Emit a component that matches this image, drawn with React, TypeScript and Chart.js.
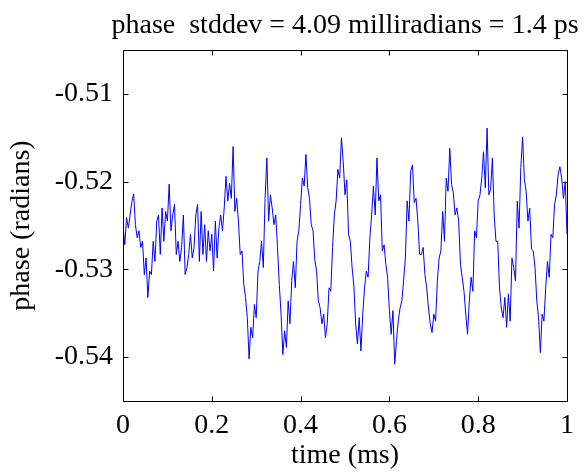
import React, { useEffect, useRef } from "react";
import { Chart, registerables } from "chart.js";

Chart.register(...registerables);

// ---------- data ----------
const titleText = "phase  stddev = 4.09 milliradians = 1.4 ps";
const xAxisLabel = "time (ms)";
const yAxisLabel = "phase (radians)";

const samplePeriodMs = 0.004; // time between samples (ms)

// phase samples (radians), in time order
const phaseSeg1 = [
  -0.5249, -0.5272, -0.5241, -0.5253, -0.5238, -0.5223, -0.5214, -0.5249, -0.5264, -0.5256,
  -0.5275, -0.5268, -0.5306, -0.5287, -0.5332, -0.5302, -0.5306, -0.5268, -0.5291, -0.5245,
  -0.5238, -0.5283, -0.5230, -0.5268, -0.5234, -0.5245, -0.5203, -0.5256, -0.5238, -0.5226,
  -0.5283, -0.5268, -0.5291, -0.5275, -0.5238, -0.5306, -0.5298, -0.5283, -0.5260, -0.5287,
  -0.5275, -0.5238,
];
const phaseSeg2 = [
  -0.5226, -0.5291, -0.5234, -0.5283, -0.5249, -0.5291, -0.5256, -0.5279, -0.5260, -0.5302,
  -0.5245, -0.5287, -0.5253, -0.5238, -0.5256, -0.5230, -0.5194, -0.5222, -0.5202, -0.5219,
  -0.5160, -0.5234, -0.5219, -0.5245, -0.5283, -0.5279, -0.5317, -0.5332, -0.5355, -0.5402,
  -0.5366, -0.5378, -0.5340, -0.5355, -0.5302, -0.5291, -0.5268, -0.5298, -0.5219, -0.5173,
  -0.5245, -0.5215,
];
const phaseSeg3 = [
  -0.5230, -0.5249, -0.5238, -0.5275, -0.5317, -0.5351, -0.5397, -0.5370, -0.5389, -0.5336,
  -0.5362, -0.5313, -0.5291, -0.5321, -0.5268, -0.5256, -0.5226, -0.5196, -0.5205, -0.5169,
  -0.5207, -0.5219, -0.5249, -0.5256, -0.5289, -0.5302, -0.5336, -0.5344, -0.5362, -0.5351,
  -0.5378, -0.5362, -0.5321, -0.5325, -0.5275, -0.5238, -0.5222, -0.5186, -0.5196, -0.5150,
  -0.5177, -0.5215,
];
const phaseSeg4 = [
  -0.5198, -0.5260, -0.5268, -0.5298, -0.5319, -0.5362, -0.5385, -0.5355, -0.5393, -0.5351,
  -0.5321, -0.5302, -0.5309, -0.5264, -0.5238, -0.5205, -0.5238, -0.5173, -0.5222, -0.5215,
  -0.5279, -0.5272, -0.5294, -0.5309, -0.5347, -0.5374, -0.5347, -0.5408, -0.5381, -0.5359,
  -0.5344, -0.5336, -0.5313, -0.5287, -0.5222, -0.5245, -0.5188, -0.5181, -0.5224, -0.5219,
  -0.5245, -0.5283,
];
const phaseSeg5 = [
  -0.5283, -0.5275, -0.5306, -0.5321, -0.5344, -0.5362, -0.5372, -0.5351, -0.5359, -0.5313,
  -0.5287, -0.5279, -0.5234, -0.5268, -0.5196, -0.5211, -0.5162, -0.5203, -0.5213, -0.5238,
  -0.5230, -0.5245, -0.5294, -0.5309, -0.5325, -0.5351, -0.5374, -0.5336, -0.5309, -0.5325,
  -0.5256, -0.5264, -0.5222, -0.5215, -0.5196, -0.5166, -0.5207, -0.5139, -0.5215, -0.5209,
  -0.5173, -0.5238, -0.5268,
];
const phaseSeg6 = [
  -0.5268, -0.5321, -0.5344, -0.5355, -0.5332, -0.5366, -0.5328, -0.5359, -0.5287, -0.5298,
  -0.5313, -0.5222, -0.5253, -0.5184, -0.5149, -0.5198, -0.5211, -0.5245, -0.5230, -0.5277,
  -0.5279, -0.5298, -0.5336, -0.5355, -0.5395, -0.5351, -0.5359, -0.5321, -0.5291, -0.5309,
  -0.5260, -0.5264, -0.5226, -0.5215, -0.5192, -0.5183, -0.5196, -0.5219, -0.5200, -0.5260,
];
const phaseRadians = [
  ...phaseSeg1, ...phaseSeg2, ...phaseSeg3, ...phaseSeg4, ...phaseSeg5, ...phaseSeg6,
];

const xMin = 0;
const xMax = 1;
const yMin = -0.545;
const yMax = -0.505;
const xTickValues = [0, 0.2, 0.4, 0.6, 0.8, 1];
const yTickValues = [-0.54, -0.53, -0.52, -0.51];

// ---------- styling ----------
const FONT_FAMILY = '"Liberation Serif", "Times New Roman", serif';
const FONT_SIZE = 28;
const TICK_LEN = 5;

const framePlugin = {
  id: "matlabFrame",
  afterDraw(chart: any) {
    const { ctx, chartArea } = chart;
    const { left, right, top, bottom } = chartArea;
    const xs = chart.scales.x;
    const ys = chart.scales.y;
    ctx.save();
    ctx.strokeStyle = "#000";
    ctx.lineWidth = 1;
    ctx.beginPath();
    const L = Math.round(left) + 0.5;
    const R = Math.round(right) + 0.5;
    const T = Math.round(top) + 0.5;
    const B = Math.round(bottom) + 0.5;
    ctx.rect(L, T, R - L, B - T);
    for (const v of xTickValues) {
      const px = Math.round(xs.getPixelForValue(v)) + 0.5;
      ctx.moveTo(px, B);
      ctx.lineTo(px, B - TICK_LEN);
      ctx.moveTo(px, T);
      ctx.lineTo(px, T + TICK_LEN);
    }
    for (const v of yTickValues) {
      const py = Math.round(ys.getPixelForValue(v)) + 0.5;
      ctx.moveTo(L, py);
      ctx.lineTo(L + TICK_LEN, py);
      ctx.moveTo(R, py);
      ctx.lineTo(R - TICK_LEN, py);
    }
    ctx.stroke();

    ctx.fillStyle = "#000";
    ctx.font = `${FONT_SIZE}px ${FONT_FAMILY}`;
    ctx.textAlign = "center";
    ctx.textBaseline = "alphabetic";
    ctx.fillText(titleText, (left + right) / 2, 33);
    ctx.restore();
  },
};

export default function App() {
  const canvasRef = useRef<HTMLCanvasElement | null>(null);

  useEffect(() => {
    const canvas = canvasRef.current;
    if (!canvas) return;
    const points = phaseRadians.map((v, i) => ({
      x: Math.round(i * samplePeriodMs * 1e6) / 1e6,
      y: v,
    }));
    const font = { family: FONT_FAMILY, size: FONT_SIZE };
    const chart = new Chart(canvas, {
      type: "line",
      data: {
        datasets: [
          {
            data: points,
            borderColor: "#0000ff",
            borderWidth: 1,
            pointRadius: 0,
            tension: 0,
            fill: false,
          },
        ],
      },
      options: {
        animation: false,
        responsive: false,
        devicePixelRatio: 1,
        events: [],
        layout: { padding: { left: 0, right: 18, top: 50, bottom: 0 } },
        plugins: {
          legend: { display: false },
          title: { display: false },
          tooltip: { enabled: false },
        },
        scales: {
          x: {
            type: "linear",
            min: xMin,
            max: xMax,
            afterBuildTicks: (s: any) => {
              s.ticks = xTickValues.map((v) => ({ value: v }));
            },
            afterFit: (s: any) => {
              s.height = 71;
            },
            ticks: {
              font,
              color: "#000",
              padding: 8,
              maxRotation: 0,
              autoSkip: false,
              callback: (v: any) => String(v),
            },
            grid: { display: false, drawTicks: false },
            border: { display: false },
            title: {
              display: true,
              text: xAxisLabel,
              font,
              color: "#000",
              padding: { top: 0, bottom: 0 },
            },
          },
          y: {
            type: "linear",
            min: yMin,
            max: yMax,
            afterBuildTicks: (s: any) => {
              s.ticks = yTickValues.map((v) => ({ value: v }));
            },
            afterFit: (s: any) => {
              s.width = 123;
            },
            ticks: {
              font,
              color: "#000",
              padding: 10,
              autoSkip: false,
              callback: (v: any) => Number(v).toFixed(2),
            },
            grid: { display: false, drawTicks: false },
            border: { display: false },
            title: {
              display: true,
              text: yAxisLabel,
              font,
              color: "#000",
              padding: { top: 5, bottom: 0 },
            },
          },
        },
      },
      plugins: [framePlugin],
    } as any);
    return () => chart.destroy();
  }, []);

  return (
    <div style={{ position: "absolute", left: 0, top: 0, width: 585, height: 472, background: "#fff" }}>
      <canvas ref={canvasRef} width={585} height={472} style={{ display: "block" }} />
    </div>
  );
}
